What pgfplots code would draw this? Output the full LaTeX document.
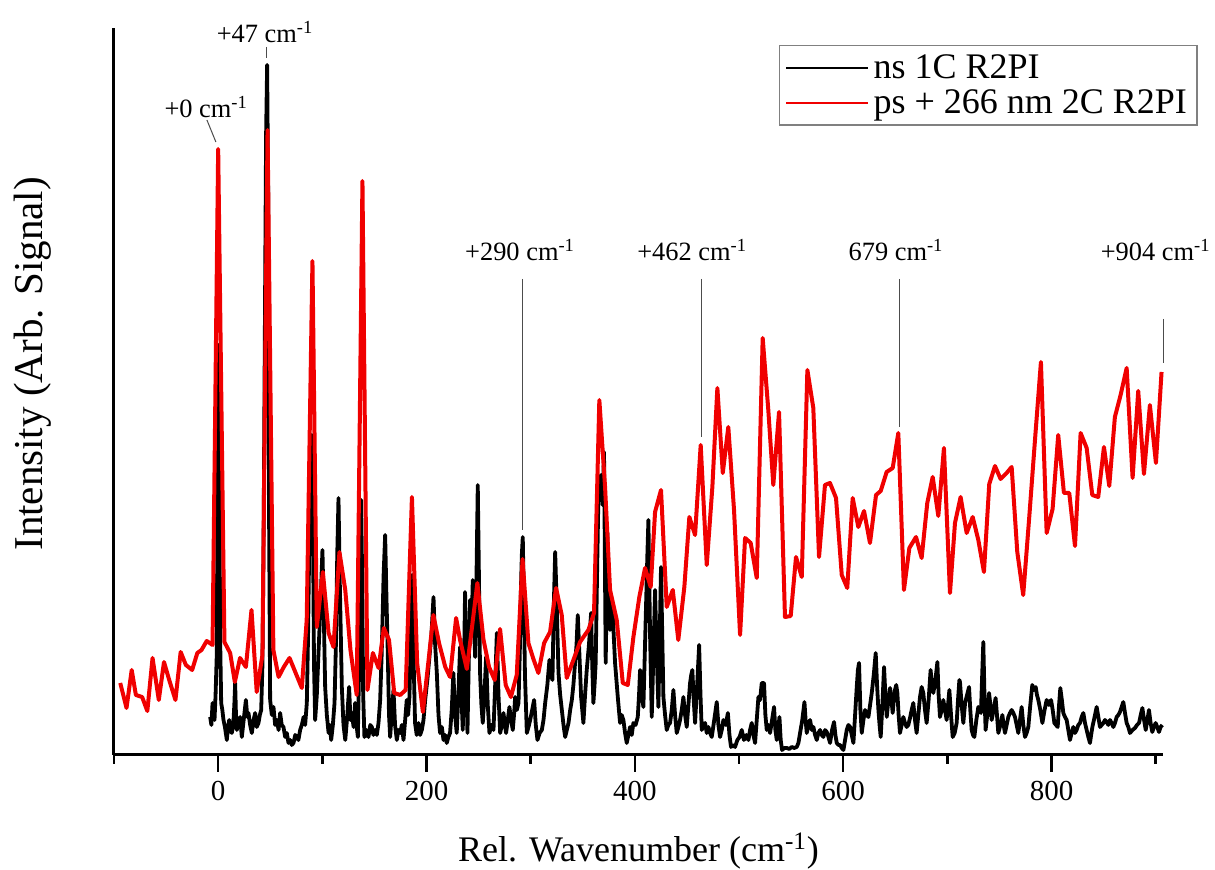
\documentclass[border=0pt]{standalone}
\usepackage{fontspec}
\setmainfont{Liberation Serif}
\usepackage{pgfplots}
\pgfplotsset{compat=1.18}
\definecolor{specred}{RGB}{240,0,0}
\begin{document}
\begin{tikzpicture}
\path[use as bounding box] (-57pt,-57.5pt) rectangle (550.5pt,377.5pt);
\begin{axis}[
 at={(0pt,0pt)}, anchor=south west,
 scale only axis, width=524.5pt, height=363.5pt,
 xmin=-100, xmax=907, ymin=0, ymax=727,
 clip=false,
 axis x line*=bottom, axis y line*=left,
 axis line style={line width=1.5pt, -},
 xtick={0,200,400,600,800},
 minor xtick={-100,100,300,500,700,900},
 ytick=\empty,
 tick align=outside,
 major tick length=8.5pt, minor tick length=4.5pt,
 every tick/.style={line width=1.25pt, black},
 /pgf/number format/assume math mode=true,
 xticklabel style={font=\fontsize{14.5}{15}\selectfont, inner sep=0pt, anchor=north, yshift=-4.5pt},
 xlabel={Rel. Wavenumber (cm\textsuperscript{-1})},
 xlabel style={font=\fontsize{18}{20}\selectfont, at={(axis description cs:0.5,-0.132)}, anchor=center},
 ylabel={Intensity (Arb. Signal)},
 ylabel style={font=\fontsize{20.5}{22}\selectfont, at={(axis description cs:-0.0772,0.538)}, anchor=center},
 legend style={at={(rel axis cs:1.033,0.977)}, anchor=north east, draw=gray, line width=0.75pt,
   font=\fontsize{18}{19}\selectfont, inner xsep=3pt, inner ysep=2.5pt, row sep=0pt},
 legend cell align=left,
 legend image code/.code={\draw[#1, line width=1.1pt] (0pt,0pt) -- (41pt,0pt);},
]
\addplot[black, line width=1.9pt, line join=round] coordinates {
(-7.7,38) (-6.5,30) (-5.4,52) (-4.5,40) (-3.5,35) (-2.5,60) (-1.3,102) (-0.5,300) (0.3,410) (1.2,250) (2,110) (2.9,52) (4,45) (5.1,35) (6.5,28) (8.3,15) (9.5,28) (10.6,35) (11.8,25) (13.1,22) (14.5,30) (15.5,50) (16.3,72) (17.1,40) (17.9,25) (19.5,32) (21.1,38) (22.7,18) (24.5,35) (26.6,55) (28,38) (29.1,42) (30.7,30) (32.3,22) (34,35) (35.5,42) (37,28) (38.7,32) (40,40) (41.3,45) (42.5,90) (43.5,200) (44.8,420) (46,620) (47,690) (48,560) (48.8,250) (49.9,55) (51.5,40) (53.1,48) (54.7,30) (56.3,35) (58,25) (59.5,42) (61,30) (62.7,28) (64.3,18) (65.9,22) (67.5,12) (69.1,15) (70.7,10) (72.3,12) (74,20) (75.5,18) (77,15) (78.7,25) (80.3,30) (82,38) (83.5,30) (85.1,52) (86.3,120) (87.3,200) (88.5,290) (89.9,320) (91,230) (92,90) (93.1,35) (94.7,60) (96.3,102) (98.2,150) (100.1,205) (101.4,140) (102.7,68) (104.3,40) (106,22) (107.2,30) (108.5,15) (110.1,30) (111.7,52) (113,110) (114.3,200) (115.5,257) (116.8,170) (118.7,68) (120.3,30) (122,15) (124,40) (125.7,68) (127,35) (128.3,42) (130,28) (131.5,52) (132.8,30) (134.1,18) (135.5,100) (136.5,200) (137.2,255) (138.2,180) (139.2,60) (140.4,18) (142.3,25) (144.3,18) (146,30) (147.5,28) (149,20) (150.7,25) (152.3,20) (153.9,32) (155.5,55) (157,102) (158.8,180) (160.3,220) (161.5,160) (162.8,102) (164,40) (165.1,18)
(166.5,40) (168.3,65) (169.8,30) (171.5,15) (173,25) (174.7,22) (176.3,30) (177.9,15) (179.5,35) (181,55) (182.3,40) (183.6,58) (185,120) (186.2,180) (187.5,100) (189,32) (190.6,20) (192.3,32) (193.9,20) (195.5,25) (197.1,35) (198.7,55) (200.8,75) (202.8,98) (204.7,120) (206.7,158) (208.3,110) (209.9,82) (211.5,40) (213,22) (214.7,28) (216.3,15) (217.8,20) (219.4,12) (221,18) (222.6,22) (224.2,45) (225.8,82) (227.4,40) (229,22) (230.6,60) (232.2,108) (233.5,60) (234.8,25) (236,90) (237,163) (238.2,80) (239.3,22) (240.5,90) (241.8,155) (243.1,120) (244.4,175) (245.5,130) (246.7,98) (248,180) (249.2,270) (250.3,180) (251.4,82) (252.7,50) (254,32) (255.6,60) (257.2,98) (258.8,50) (260.4,22) (262.3,30) (264.3,25) (265.9,70) (267.5,122) (269.1,60) (270.7,22) (272.3,30) (273.9,42) (275.2,30) (276.4,22) (278,35) (279.6,48) (281.2,35) (282.8,25) (284,40) (285.1,58) (286.7,45) (288.3,52) (289.5,100) (290.5,160) (291.5,200) (292.4,218) (293.5,150) (294.5,80) (296.3,22) (297.9,28) (299.5,35) (301.4,45) (303.3,55) (304.9,30) (306.5,15) (308.6,22) (310.7,25) (312.3,35) (313.9,52) (316,70) (318,95) (319.5,80) (320.9,75) (322.2,150) (323.5,203) (325,150) (326.7,82) (328.3,60) (329.9,45) (331.5,30) (333.1,18) (334.7,25) (336.3,32) (337.9,45) (339.5,55) (341,70) (342.6,92) (344,110) (345.2,140) (346.8,100) (348.4,58) (349.5,45) (350.6,32) (352.2,60) (353.8,85) (355.9,110) (358,142) (359.1,90) (360.2,52) (361.3,70) (362.4,92) (363.7,180) (365,258) (366.3,270) (367.5,280) (369,250) (370.4,303) (371.2,200) (372,92) (372.8,150) (373.6,222) (374.9,170) (376.2,125) (377.3,140) (378.4,152) (379.7,120) (381,92) (382.3,75) (383.6,58) (384.7,45) (385.8,32) (387.4,40) (389,35) (390.6,22) (392.2,12) (393.8,20) (395.4,28) (397,20) (398.6,32) (400.7,30) (402.8,38) (404,60) (405,85) (406.6,60) (408.2,48) (409.5,100) (410.8,152) (412,200) (413,235) (414.6,120) (416.2,38) (417.8,100) (419.4,165) (421,100) (422.6,48) (423.9,120) (425.1,188) (426.3,120) (427.4,58) (429,40) (430.6,25) (432.2,30) (433.8,32) (435.4,45) (437,65) (438.6,40) (440.2,22) (441.8,28) (443.4,35) (445,45) (446.6,58) (448.2,40) (449.8,28) (451.4,50) (453,72) (454.1,80) (455.2,85) (456.5,55) (457.8,32) (459.8,70) (461.7,110) (463,60) (464.2,25) (465.8,30) (467.4,32) (469,22) (470.6,28) (472.2,22) (473.8,18) (476.2,35) (478.6,53) (480.2,30) (481.8,18) (483.4,25) (485,35) (487.2,30) (489.3,42) (490.8,20) (492.3,8) (494.2,10) (496.2,8) (498.4,15) (500.5,18) (502.6,25) (504.7,15) (507,20) (509,15) (510.6,25) (512.2,32) (513.8,20) (515.4,12) (517,35) (518.6,58) (520.2,55) (521.8,72) (524,72) (525.3,40) (526.6,25) (528.2,30) (529.8,22) (531.7,35) (533.6,48) (534.9,25) (536.2,15) (537.5,25) (538.8,38) (540,15) (541.3,5) (543.5,7) (545.8,7) (548.2,6) (550.6,8) (553,7) (555.4,8) (557,12) (558.6,22) (560.7,35) (562.8,53) (563.9,35) (565,22) (566.6,30) (568.2,35) (569.8,25) (571.4,28) (573,20) (574.6,15) (576.2,22) (577.8,25) (579.4,20) (581,18) (582.6,25) (584.2,23) (585.8,18) (587.4,12) (589.3,25) (591.2,33) (592.5,20) (593.8,12) (595.4,10) (597,10) (598.6,7) (600.2,5) (601.8,15) (603.4,25) (605,30) (606.6,28) (608.2,20) (609.8,12) (611.4,40) (613,68) (614.1,85) (615.2,92) (616.5,45) (617.8,22) (619.4,35) (621,45) (622.6,40) (624.2,38) (625.8,50) (627.4,62) (629.3,80) (631.2,102) (632.5,70) (633.8,45) (634.9,30) (636,18) (637.6,50) (639.2,88) (640.5,60) (641.8,38) (643.4,55) (645,67) (646.3,55) (647.5,42) (648.6,55) (649.7,65) (650.9,70) (652,62) (653.2,40) (654.5,22) (656.1,30) (657.7,38) (659.3,32) (660.9,28) (662.5,30) (664.1,37) (665.7,45) (667.3,52) (668.9,35) (670.5,22) (672.1,40) (673.7,58) (675.3,68) (676.9,62) (678.5,45) (680.1,32) (682,55) (683.9,85) (685.2,70) (686.5,62) (688.5,75) (690.4,93) (691.6,60) (692.9,38) (694.5,45) (696.1,55) (697.7,45) (699.3,35) (700.6,50) (701.9,65) (703.5,40) (705.1,18) (707,22) (708.9,32) (710.2,55) (711.5,75) (712.1,73) (713.7,50) (715.3,32) (717,52) (718.9,60) (720.8,68) (722,45) (723.3,25) (724.6,20) (725.9,18) (727.8,35) (729.7,48) (731,45) (732.2,42) (733.4,80) (734.5,113) (735.6,60) (736.7,25) (738.3,40) (740,62) (741.3,50) (742.5,35) (744.4,45) (746.3,57) (747.6,40) (748.9,22) (750.9,30) (752.8,40) (754,30) (755.3,22) (756.9,30) (758.5,38) (760.1,42) (761.7,45) (763.3,42) (764.9,38) (766.5,30) (768.1,22) (769.7,35) (771.3,48) (772.9,30) (774.5,18) (776.1,22) (777.7,28) (779.6,50) (781.5,70) (783.2,65) (784.8,68) (786,60) (787.3,55) (789.2,45) (791.2,32) (793.3,45) (795.3,55) (797.4,50) (799.5,55) (801.1,45) (802.7,32) (804.3,30) (805.9,28) (807.2,50) (808.4,67) (809.9,55) (811.3,42) (812.9,38) (814.5,35) (816.1,25) (817.7,15) (819.3,22) (820.9,28) (822.5,22) (824.1,25) (825.7,30) (827.3,32) (828.9,38) (830.5,42) (832.1,32) (833.7,25) (835.3,18) (836.9,12) (838,20) (839.2,28) (841.3,38) (843.3,48) (844.9,38) (846.5,28) (848.1,30) (849.7,32) (851.3,35) (852.9,33) (854.5,30) (856.1,35) (857.7,32) (859.3,28) (860.9,32) (862.5,38) (864.1,40) (865.7,43) (867.3,48) (868.9,53) (870.5,42) (872.1,32) (873.7,28) (875.3,22) (877.7,25) (880.1,27) (882,30) (884,32) (885.6,40) (887.2,47) (888.8,35) (890.4,25) (892,35) (893.5,45) (895.1,32) (896.7,23) (898.3,28) (899.9,32) (901.5,28) (903.1,23) (904.7,28) (906.3,30)
};
\addlegendentry{ns 1C R2PI}
\addplot[specred, line width=2pt, line join=round] coordinates {
(-94,72) (-88,47) (-83,85) (-79,60) (-73,58) (-68,44) (-63,97) (-57,55) (-52,93) (-47,75) (-41,55) (-36,103) (-31,90) (-25,85) (-20,102) (-16,105) (-11,114) (-5.4,110) (0,606) (6,113) (11.5,102) (16,73) (21,97) (26.6,88) (32,145) (37,63) (42.5,100) (47.4,625) (53,105) (58,78) (63,88) (68.5,97) (74,83) (80.3,67) (85,135) (90.5,494) (94.7,128) (100.5,183) (106,122) (110.7,108) (116.4,203) (122,165) (127,105) (133,60) (138.5,574) (143.3,65) (148.5,102) (154,87) (159,127) (164,115) (169,62) (174.7,60) (180,65) (186,258) (191,92) (196.5,43) (202,95) (206.6,140) (212,112) (218,88) (222.6,78) (228.4,137) (232.2,115) (238.7,86) (243.7,128) (248.8,172) (254.6,116) (260,88) (265.5,75) (270.6,126) (276,70) (281,58) (286.6,80) (292.2,196) (297.8,112) (302.6,96) (307.4,82) (312.9,112) (318.6,123) (324.4,167) (329.8,140) (334.6,77) (341,95) (347.4,113) (352,120) (355.4,125) (360.8,142) (365.9,355) (371.4,268) (376.2,165) (382.6,135) (388.4,72) (393.2,70) (398.6,118) (404.3,158) (409.8,187) (415.2,168) (419.4,243) (425.1,265) (430.6,148) (436.4,165) (441.7,115) (447.5,168) (452.3,238) (457.8,220) (463.2,310) (469,190) (474.4,268) (479.2,367) (484.4,282) (489.7,328) (495.2,245) (501,120) (505.8,217) (511.2,212) (517,177) (522.7,417) (528.1,345) (532.9,270) (538.4,343) (544.1,138) (549.6,139) (554.7,198) (560.2,178) (565.6,385) (571.3,347) (576.8,198) (582.5,270) (587.3,272) (593.1,257) (598.6,180) (603.9,167) (609.1,257) (614.5,228) (620,244) (625.7,212) (631.5,260) (636,264) (641.7,283) (647.5,287) (652.9,322) (658.3,165) (663.5,207) (669.9,218) (675.3,197) (680.7,252) (685.9,278) (691.3,239) (696.7,307) (702.5,162) (707.3,232) (712.7,258) (718.5,222) (724.3,238) (729.7,215) (735.1,183) (740.2,271) (745.7,289) (751.1,276) (756.9,282) (761.7,288) (767.1,203) (772.8,160) (778.6,238) (784.1,315) (789.8,393) (795.3,222) (801,246) (806.4,320) (811.9,262) (817,262) (822.5,209) (827.9,322) (833.7,307) (839.1,260) (844.8,258) (850.3,308) (855.4,269) (860.8,338) (866.3,360) (872.1,387) (877.8,277) (883.2,364) (888.7,281) (894.4,350) (900.2,292) (905.6,383)
};
\addlegendentry{ps + 266 nm 2C R2PI}
% annotations
\begin{scope}[every node/.style={font=\fontsize{13.2}{14}\selectfont, inner sep=0pt}]
\node at (axis cs:-11.5,648) {+0 cm\textsuperscript{-1}};
\draw[gray!60!black, line width=0.5pt] (axis cs:-10.8,635) -- (axis cs:-2.2,613);
\node at (axis cs:45,723) {+47 cm\textsuperscript{-1}};
\draw[gray!60!black, line width=0.5pt] (axis cs:46.7,708) -- (axis cs:46.7,697);
\node at (axis cs:289.8,505) {+290 cm\textsuperscript{-1}};
\draw[gray!60!black, line width=0.5pt] (axis cs:291.7,476) -- (axis cs:291.7,225);
\node at (axis cs:455,505) {+462 cm\textsuperscript{-1}};
\draw[gray!60!black, line width=0.5pt] (axis cs:463.5,476) -- (axis cs:463.5,318);
\node at (axis cs:650.7,505) {679 cm\textsuperscript{-1}};
\draw[gray!60!black, line width=0.5pt] (axis cs:654,476) -- (axis cs:654,328);
\node[anchor=east] at (axis cs:953,505) {+904 cm\textsuperscript{-1}};
\draw[gray!60!black, line width=0.5pt] (axis cs:907.7,436) -- (axis cs:907.7,392);
\end{scope}
\end{axis}
\end{tikzpicture}
\end{document}
